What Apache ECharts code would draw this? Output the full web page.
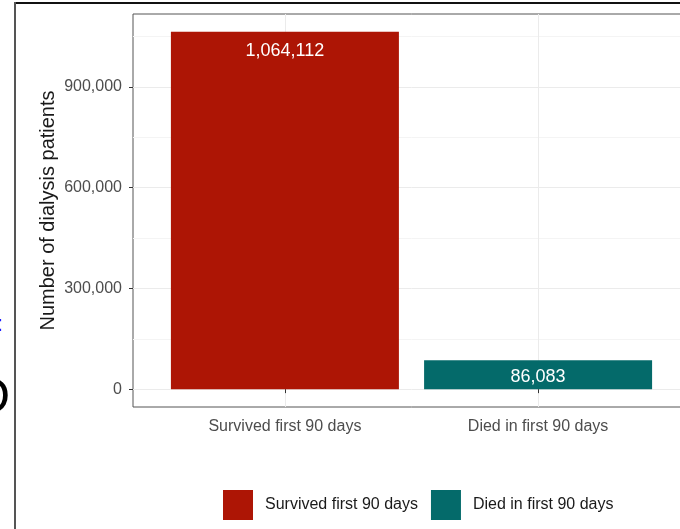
<!DOCTYPE html>
<html>
<head>
<meta charset="utf-8">
<title>Dialysis patients by 90-day survival</title>
<script src="https://cdn.jsdelivr.net/npm/echarts@6/dist/echarts.min.js"></script>
<style>
  html, body { margin: 0; padding: 0; background: #ffffff; overflow: hidden; }
  /* the plot panel runs past the right edge of the window */
  #chart { width: 700px; height: 529px; }
</style>
</head>
<body>
<div id="chart"></div>
<script>
// Patient counts by outcome in the first 90 days of dialysis
const categories = ['Survived first 90 days', 'Died in first 90 days'];
const patients = [1064112, 86083];
const barColors = ['#ad1505', '#046a6a'];
const yTicks = [0, 300000, 600000, 900000];
const yMinorTicks = [150000, 450000, 750000, 1050000];

const FONT = '"Liberation Sans", Arial, Helvetica, sans-serif';
const peak = Math.max(...patients);
const yMin = -0.05 * peak;
const yMax = 1.05 * peak;
const catPos = categories.map((c, i) => i + 1);

const fmt = v => v.toLocaleString('en-US');

const chart = echarts.init(document.getElementById('chart'), null, { renderer: 'canvas' });

const barSeries = categories.map((name, i) => ({
  name: name,
  type: 'bar',
  barWidth: 228,
  barGap: '-100%',
  z: 2,
  itemStyle: { color: barColors[i] },
  label: {
    show: true,
    position: 'insideTop',
    distance: i === 0 ? 10 : 8,
    color: '#ffffff',
    fontFamily: FONT,
    fontSize: 18,
    formatter: p => fmt(p.value[1])
  },
  data: [[catPos[i], patients[i]]]
}));

// background grid lines (minor horizontals and category verticals)
const gridSeries = {
  name: '__grid',
  type: 'line',
  data: [],
  z: 0,
  silent: true,
  markLine: {
    silent: true,
    z: 0,
    symbol: 'none',
    label: { show: false },
    emphasis: { disabled: true },
    data: [
      ...yMinorTicks.map(v => ({ yAxis: v, lineStyle: { color: '#f4f4f4', width: 1, type: 'solid' } })),
      ...catPos.map(v => ({ xAxis: v, lineStyle: { color: '#ebebeb', width: 1, type: 'solid' } }))
    ]
  }
};

chart.setOption({
  animation: false,
  backgroundColor: '#ffffff',
  textStyle: { fontFamily: FONT },
  grid: { left: 133, top: 14, right: 10, bottom: 122, show: true, borderColor: '#555555', borderWidth: 1, backgroundColor: 'transparent' },
  legend: {
    data: categories,
    left: 223,
    top: 490,
    padding: 0,
    icon: 'rect',
    itemWidth: 30,
    itemHeight: 30,
    itemGap: 13,
    textStyle: { color: '#1a1a1a', fontSize: 16, fontFamily: FONT, padding: [0, 0, 0, 7] },
    selectedMode: false
  },
  xAxis: {
    type: 'value',
    min: 0.4,
    max: 2.6,
    axisLine: { show: false },
    splitLine: { show: false },
    axisTick: { show: true, customValues: catPos, length: 4, lineStyle: { color: '#333333' } },
    axisLabel: {
      customValues: catPos,
      color: '#4d4d4d',
      fontSize: 16,
      fontFamily: FONT,
      margin: 12,
      formatter: v => categories[Math.round(v) - 1] || ''
    }
  },
  yAxis: {
    type: 'value',
    min: yMin,
    max: yMax,
    name: 'Number of dialysis patients',
    nameLocation: 'middle',
    nameGap: 75,
    nameMoveOverlap: false,
    nameTextStyle: { color: '#1a1a1a', fontSize: 20, fontFamily: FONT },
    axisLine: { show: false },
    axisTick: { show: true, customValues: yTicks, length: 4, lineStyle: { color: '#333333' } },
    axisLabel: { customValues: yTicks, color: '#4d4d4d', fontSize: 16, fontFamily: FONT, margin: 11, formatter: v => fmt(v) },
    splitLine: { show: true, lineStyle: { color: '#ebebeb', width: 1 } }
  },
  graphic: [
    // slide frame around the figure
    { type: 'line', shape: { x1: 15, y1: 3, x2: 700, y2: 3 }, style: { stroke: '#111111', lineWidth: 2 }, z: 10 },
    { type: 'line', shape: { x1: 15, y1: 2, x2: 15, y2: 529 }, style: { stroke: '#555555', lineWidth: 2 }, z: 10 },
    // text from the slide next to the figure
    { type: 'text', left: -3, top: 314, style: { text: ':', fill: '#1a1aff', font: '22px ' + FONT }, z: 10 },
    { type: 'text', left: -26, top: 374, style: { text: 'D', fill: '#000000', font: '50px ' + FONT }, z: 10 }
  ],
  series: [gridSeries, ...barSeries]
});
</script>
</body>
</html>
